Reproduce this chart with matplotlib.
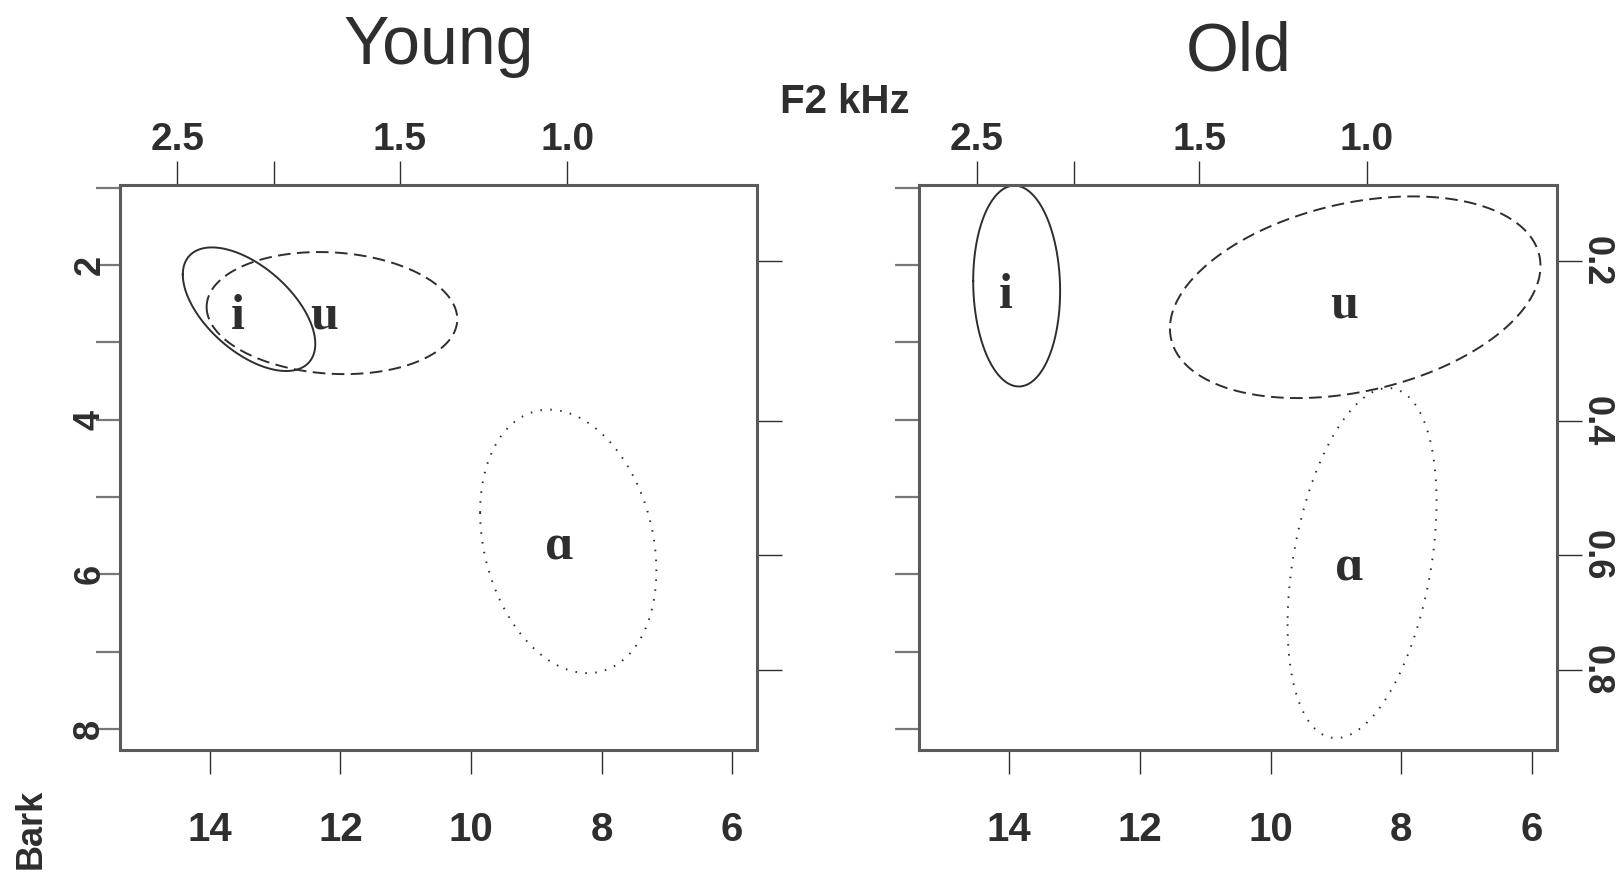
import numpy as np
import matplotlib
matplotlib.use("Agg")
import matplotlib.pyplot as plt

plt.rcParams["font.family"] = ["Liberation Sans", "DejaVu Sans"]

# --- data (Bark) ---------------------------------------------------------
panels = ["Young", "Old"]
vowels = ["i", "u", "\u0251"]
styles = ["solid", "dashed", "dotted"]

# ellipse centre (F2 Bark, F1 Bark), half-ranges and F2/F1 correlation
young_cx = [13.40, 12.13, 8.51]
young_cy = [2.57, 2.62, 5.575]
young_ax = [1.015, 1.92, 1.35]
young_ay = [0.80, 0.79, 1.705]
young_rho = [-0.56, -0.10, -0.22]
young_lab_x = [13.57, 12.25, 8.65]
young_lab_y = [2.67, 2.67, 5.66]

old_cx = [13.885, 8.705, 8.60]
old_cy = [2.27, 2.415, 5.855]
old_ax = [0.665, 2.835, 1.14]
old_ay = [1.30, 1.305, 2.265]
old_rho = [-0.05, 0.31, 0.35]
old_lab_x = [14.05, 8.88, 8.79]
old_lab_y = [2.40, 2.52, 5.92]

bark_ticks = [14, 12, 10, 8, 6]
f1_bark_ticks = [1, 2, 3, 4, 5, 6, 7, 8]
f1_bark_labels = ["", "2", "", "4", "", "6", "", "8"]
f2_khz_ticks = [2.5, 2.0, 1.5, 1.0]
f2_khz_labels = ["2.5", "", "1.5", "1.0"]
f1_khz_ticks = [0.2, 0.4, 0.6, 0.8]
f1_khz_labels = ["0.2", "0.4", "0.6", "0.8"]

XLIM = (15.38, 5.62)
YLIM = (8.27, 0.96)


def khz_to_bark(f):
    f = np.asarray(f, dtype=float) * 1000.0
    return 26.81 * f / (1960.0 + f) - 0.53


def bark_to_khz(b):
    b = np.asarray(b, dtype=float)
    return 1960.0 * (b + 0.53) / (26.28 - b) / 1000.0


BOX = "#5a5a5a"
INK = "#2e2e2e"

fig = plt.figure(figsize=(16.19, 8.73), dpi=100)
ax_l = fig.add_axes([0.074, 0.1413, 0.3935, 0.6470])
ax_r = fig.add_axes([0.5676, 0.1413, 0.3940, 0.6470])

data = {
    "Young": (young_cx, young_cy, young_ax, young_ay, young_rho, young_lab_x, young_lab_y),
    "Old": (old_cx, old_cy, old_ax, old_ay, old_rho, old_lab_x, old_lab_y),
}

t = np.linspace(0, 2 * np.pi, 300)
for ax, name in zip([ax_l, ax_r], panels):
    cx, cy, hx, hy, rho, lx, ly = data[name]
    for k in range(len(vowels)):
        x = cx[k] + hx[k] * np.cos(t)
        y = cy[k] + hy[k] * (rho[k] * np.cos(t) + np.sqrt(1 - rho[k] ** 2) * np.sin(t))
        line, = ax.plot(x, y, color=INK, lw=1.4, linestyle=styles[k])
        if styles[k] == "dashed":
            line.set_dashes((6.5, 3.3))
        elif styles[k] == "dotted":
            line.set_dashes((0.8, 4.3))
        ax.text(lx[k], ly[k], vowels[k], ha="center", va="center",
                fontsize=36, fontweight="bold", color=INK,
                family=["Liberation Serif", "DejaVu Serif"])

    ax.set_xlim(*XLIM)
    ax.set_ylim(*YLIM)
    for sp in ax.spines.values():
        sp.set_color(BOX)
        sp.set_linewidth(2.2)

    ax.set_xticks(bark_ticks)
    ax.set_xticklabels([str(v) for v in bark_ticks])
    ax.set_yticks(f1_bark_ticks)
    ax.set_yticklabels(f1_bark_labels if ax is ax_l else [""] * len(f1_bark_labels))
    ax.tick_params(axis="x", direction="out", length=17, width=1.0, color=INK,
                   pad=27, labelsize=29, labelcolor=INK)
    ax.tick_params(axis="y", direction="out", length=17, width=1.6, color="#777777",
                   pad=-8, labelsize=26, labelcolor=INK)
    for lab in ax.get_xticklabels() + ax.get_yticklabels():
        lab.set_fontweight("bold")
    for lab in ax.get_yticklabels():
        lab.set_rotation(90)
        lab.set_va("center")

    top = ax.secondary_xaxis("top", functions=(bark_to_khz, khz_to_bark))
    top.set_xticks(f2_khz_ticks)
    top.set_xticklabels(f2_khz_labels)
    top.spines["top"].set_visible(False)
    top.tick_params(direction="out", length=17, width=1.0, color=INK,
                    pad=2, labelsize=28, labelcolor=INK)
    for lab in top.get_xticklabels():
        lab.set_fontweight("bold")

    right = ax.secondary_yaxis("right", functions=(bark_to_khz, khz_to_bark))
    right.set_yticks(f1_khz_ticks)
    right.set_yticklabels(f1_khz_labels if ax is ax_r else [""] * len(f1_khz_labels))
    right.spines["right"].set_visible(False)
    right.tick_params(direction="out", length=18, width=1.0, color=INK,
                      pad=-2, labelsize=26, labelcolor=INK)
    for lab in right.get_yticklabels():
        lab.set_fontweight("bold")
        lab.set_rotation(270)
        lab.set_va("center")

fig.text(0.271, 0.947, "Young", ha="center", va="center", fontsize=49, color=INK)
fig.text(0.765, 0.940, "Old", ha="center", va="center", fontsize=49, color=INK)
fig.text(0.522, 0.883, "F2 kHz", ha="center", va="center", fontsize=29,
         fontweight="bold", color=INK)
fig.text(0.0195, 0.051, "Bark", ha="center", va="center", rotation=90,
         fontsize=26, fontweight="bold", color=INK)

fig.savefig("out.png", dpi=100)
